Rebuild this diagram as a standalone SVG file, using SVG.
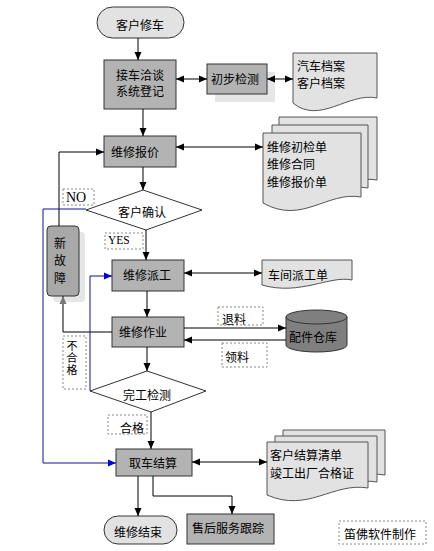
<svg xmlns="http://www.w3.org/2000/svg" width="434" height="551" viewBox="0 0 434 551">
<style>
text{font-family:"Noto Sans CJK SC","Liberation Sans",sans-serif;font-size:12px;fill:#000}
.c{text-anchor:middle}
.lat{font-family:"Liberation Serif",serif}
.box{fill:#b3b3b3;stroke:#333;stroke-width:1}
.term{fill:#e2e2e2;stroke:#333;stroke-width:1}
.doc{fill:#e2e2e2;stroke:#555;stroke-width:1}
.dia{fill:#fff;stroke:#333;stroke-width:1}
.lbl{fill:none;stroke:#888;stroke-width:1;stroke-dasharray:2,2}
.shadow{fill:#e6e6e6}
.ln{fill:none;stroke:#000;stroke-width:1}
.ar{marker-end:url(#a)}
.dbl{marker-start:url(#a);marker-end:url(#a)}
.blue{fill:none;stroke:#10109c;stroke-width:1;marker-end:url(#ab)}
</style>
<defs>
<marker id="a" markerUnits="userSpaceOnUse" markerWidth="9" markerHeight="8" refX="8" refY="4" orient="auto-start-reverse"><path d="M0,0.5 L8,4 L0,7.5 Z" fill="#000"/></marker>
<marker id="ab" markerUnits="userSpaceOnUse" markerWidth="9" markerHeight="8" refX="8" refY="4" orient="auto"><path d="M0,0.5 L8,4 L0,7.5 Z" fill="#0000e0"/></marker>
<marker id="ag" markerUnits="userSpaceOnUse" markerWidth="9" markerHeight="8" refX="8" refY="4" orient="auto"><path d="M0,0.5 L8,4 L0,7.5 Z" fill="#777"/></marker>
</defs>
<rect width="434" height="551" fill="#fff"/>

<g id="n-start">
<rect class="term" x="97" y="7" width="87" height="31" rx="15.5"/>
<text class="c" x="140" y="30">客户修车</text>
</g>

<g id="n-reception">
<rect class="box" x="104" y="60" width="72" height="49"/>
<text class="c" x="140" y="79.5">接车洽谈</text>
<text class="c" x="140" y="95.5">系统登记</text>
</g>

<g id="n-inspect">
<rect class="shadow" x="215" y="72" width="60" height="30"/>
<rect class="box" x="207" y="64" width="60" height="30"/>
<text class="c" x="235" y="83.5">初步检测</text>
</g>

<g id="n-archive">
<path class="doc" d="M293,53 H377 V98 C348,92 320,125 293,103 Z"/>
<text x="297" y="70.5">汽车档案</text>
<text x="297" y="87.5">客户档案</text>
</g>

<g id="n-quote">
<rect class="box" x="104" y="136" width="72" height="31"/>
<text class="c" x="135" y="156.5">维修报价</text>
</g>

<g id="n-quotedocs">
<path class="doc" d="M279,117 H377 V180 C345,174 320,208 279,186 Z"/>
<path class="doc" d="M272,125 H368 V188 C336,182 311,216 272,194 Z"/>
<path class="doc" d="M263,133 H361 V197 C327,191 302,225 263,203 Z"/>
<text x="267" y="151.5">维修初检单</text>
<text x="267" y="168.5">维修合同</text>
<text x="267" y="186.5">维修报价单</text>
</g>

<g id="n-confirm">
<polygon class="dia" points="86,210 143,190 202,210 146,230"/>
<text class="c" x="142" y="217">客户确认</text>
</g>

<g id="l-no">
<rect class="lbl" x="63" y="189" width="31" height="16"/>
<text class="lat" x="66" y="202" style="font-size:14px">NO</text>
</g>

<g id="l-yes">
<rect class="lbl" x="105" y="233" width="38" height="16"/>
<text class="lat" x="108" y="244" style="font-size:11.5px">YES</text>
</g>

<g id="n-newfault">
<rect class="shadow" x="53" y="232" width="32" height="70" rx="4"/>
<rect x="47" y="226" width="32" height="70" rx="4" fill="#a8a8a8" stroke="#333"/>
<text class="c" x="60" y="247.5">新</text>
<text class="c" x="60" y="264.5">故</text>
<text class="c" x="60" y="282.5">障</text>
</g>

<g id="n-dispatch">
<rect class="box" x="112" y="260" width="72" height="31"/>
<text class="c" x="147" y="279.5">维修派工</text>
</g>

<g id="n-dispatchdoc">
<path class="doc" d="M262,260 H352 V280 C330,275 300,296 262,285 Z"/>
<text x="268" y="279.5">车间派工单</text>
</g>

<g id="n-work">
<rect class="box" x="112" y="317" width="72" height="30"/>
<text class="c" x="143" y="336.5">维修作业</text>
</g>

<g id="l-return">
<rect class="lbl" x="218" y="307" width="45" height="18"/>
<text x="222" y="323.5">退料</text>
</g>

<g id="l-pick">
<rect class="lbl" x="222" y="343" width="45" height="24"/>
<text x="225" y="361.5">领料</text>
</g>

<g id="n-store">
<path d="M286,317 V345 A30.5,7 0 0 0 347,345 V317 Z" fill="#7f7f7f" stroke="#333"/>
<ellipse cx="316.5" cy="317" rx="30.5" ry="7" fill="#7f7f7f" stroke="#333"/>
<text class="c" x="313" y="341.5">配件仓库</text>
</g>

<g id="l-fail">
<rect class="lbl" x="63" y="336" width="23" height="53"/>
<text x="72" y="340" style="writing-mode:vertical-rl;font-size:11px;letter-spacing:1px">不合格</text>
</g>

<g id="n-check">
<polygon class="dia" points="90,391 147,371 206,391 151,412"/>
<text class="c" x="147" y="399.5">完工检测</text>
</g>

<g id="l-pass">
<rect class="lbl" x="108" y="415" width="39" height="19"/>
<text class="c" x="132" y="432.5">合格</text>
</g>

<g id="n-settle">
<rect class="box" x="116" y="449" width="76" height="27"/>
<text class="c" x="153" y="467.5">取车结算</text>
</g>

<g id="n-settledocs">
<path class="doc" d="M283,430 H385 V475 C350,469 325,500 283,482 Z"/>
<path class="doc" d="M275,436 H377 V482 C342,476 317,507 275,489 Z"/>
<path class="doc" d="M267,442 H368 V488 C333,482 308,513 267,495 Z"/>
<text x="270" y="459.5">客户结算清单</text>
<text x="270" y="477.5">竣工出厂合格证</text>
</g>

<g id="n-end">
<rect class="term" x="104" y="516" width="73" height="28" rx="14"/>
<text class="c" x="138" y="536.5">维修结束</text>
</g>

<g id="n-aftersales">
<rect class="box" x="187" y="514" width="87" height="30"/>
<text class="c" x="228" y="533">售后服务跟踪</text>
</g>

<g id="l-credit">
<rect class="lbl" x="339" y="521" width="87" height="23"/>
<text class="c" x="380" y="539">笛佛软件制作</text>
</g>

<g id="connectors">
<line class="ln ar" x1="138" y1="38" x2="138" y2="60"/>
<line class="ln dbl" x1="176" y1="79" x2="207" y2="79"/>
<line class="ln dbl" x1="267" y1="79" x2="293" y2="79"/>
<line class="ln ar" x1="143" y1="109" x2="143" y2="136"/>
<line class="ln dbl" x1="176" y1="147" x2="263" y2="147"/>
<line class="ln ar" x1="143" y1="167" x2="143" y2="190"/>
<polyline class="ln ar" points="59,226 59,152 104,152"/>
<polyline class="blue" points="86,209 43,209 43,463 116,463"/>
<line class="ln ar" x1="146" y1="230" x2="146" y2="260"/>
<line class="ln dbl" x1="184" y1="273" x2="262" y2="273"/>
<line class="ln ar" x1="147" y1="291" x2="147" y2="317"/>
<line class="ln ar" x1="184" y1="328" x2="286" y2="328"/>
<line class="ln ar" x1="286" y1="340" x2="184" y2="340"/>
<polyline class="ln" points="112,332 63,332 63,296" marker-end="url(#ag)"/>
<polyline class="blue" points="90,391 90,276 112,276"/>
<line class="ln ar" x1="147" y1="347" x2="147" y2="371"/>
<line class="ln ar" x1="151" y1="412" x2="151" y2="449"/>
<line class="ln dbl" x1="192" y1="462" x2="267" y2="462"/>
<line class="ln ar" x1="138" y1="476" x2="138" y2="516"/>
<polyline class="ln ar" points="153,476 153,496 232,496 232,514"/>
</g>
</svg>
